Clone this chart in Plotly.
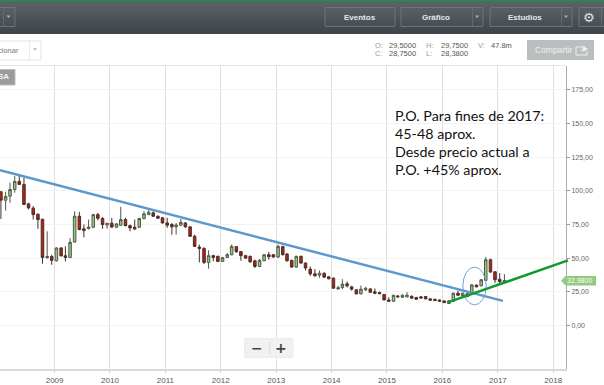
import plotly.graph_objects as go
import pandas as pd

W, H = 604, 385
# layout pixels of the plot frame
PL, PR, PT, PB = 0, 566, 66, 369

opens = [99.4,93.1,96.1,101.1,107.1,104.8,90.4,87.2,82.7,79.0,50.4,51.3,48.1,57.6,51.8,50.6,62.0,81.2,71.8,72.0,73.0,82.4,79.5,74.7,76.0,73.0,74.5,78.7,74.2,73.0,73.0,79.5,82.4,
         83.7,81.2,80.0,76.2,75.0,73.3,74.5,76.2,73.3,66.3,58.3,57.3,46.9,51.9,51.4,47.6,50.6,52.6,58.6,54.9,51.9,51.4,48.1,43.9,48.1,52.6,52.6,50.9,58.6,53.1,48.4,43.4,
         51.4,46.4,41.9,38.4,37.4,38.9,36.2,35.2,27.2,28.2,31.0,28.7,26.5,23.5,26.5,27.2,25.0,24.5,23.0,19.0,18.0,22.0,21.0,21.3,21.8,20.8,21.3,21.5,19.8,19.5,19.0,18.3,
         18.3,18.0,24.0,22.3,23.5,24.0,30.0,29.5,33.5,48.9,39.9,34.4,32.2]
highs = [99.4,99.4,106.1,111.1,111.1,109.8,91.2,88.7,83.2,79.2,70.0,52.6,58.1,58.3,58.8,65.0,84.9,84.4,75.0,78.7,82.9,83.7,80.7,76.2,80.0,76.0,88.2,80.0,75.0,78.7,80.0,85.0,85.7,
         84.7,81.7,80.7,80.0,76.2,76.2,79.2,76.7,73.8,67.5,60.1,58.1,55.9,52.6,51.9,50.9,53.9,60.1,58.8,55.1,52.6,51.9,48.9,49.4,53.1,54.6,53.1,60.1,59.3,53.9,48.9,51.9,
         51.9,46.9,43.9,41.9,40.9,39.4,36.4,35.7,29.5,34.4,32.7,29.5,27.0,29.7,28.7,27.7,27.5,25.2,23.5,21.0,22.7,22.5,23.2,24.7,22.2,21.3,21.8,22.0,20.0,19.8,19.3,18.5,
         18.5,24.5,26.0,24.5,24.0,30.4,30.5,34.5,50.9,49.6,40.2,38.9,38.2]
lows = [79.2,85.4,91.2,98.6,104.8,89.9,86.2,78.7,71.8,45.9,49.6,45.1,47.6,51.3,47.6,50.1,61.8,70.8,65.5,71.3,72.5,78.2,71.8,71.8,72.5,72.7,74.2,73.7,70.0,70.8,72.5,78.7,82.2,
        80.7,79.2,75.7,72.5,67.5,67.5,73.8,72.5,65.8,58.3,46.9,45.6,42.2,47.6,47.4,47.4,50.1,52.1,53.9,48.1,49.4,46.4,42.7,43.4,47.9,48.9,50.4,50.1,52.1,47.4,42.9,42.9,
        45.9,40.9,36.9,36.4,35.4,35.4,34.4,27.5,26.5,27.0,28.2,26.0,23.2,23.2,25.7,24.5,23.2,23.2,18.8,17.8,17.8,21.0,20.5,21.0,20.0,19.3,20.0,19.5,18.5,18.3,17.8,16.8,
        16.3,17.8,22.0,22.0,21.3,23.8,28.5,29.2,33.3,39.4,31.5,30.7,32.0]
closes = [93.1,95.9,101.1,107.1,104.8,89.9,87.4,82.4,78.7,50.6,51.3,48.4,57.6,51.8,50.6,61.8,81.2,71.3,70.5,73.2,82.4,79.7,75.0,76.0,73.2,75.5,78.7,74.2,72.5,71.8,79.5,83.0,84.2,
          81.2,79.7,76.2,74.5,73.3,74.7,76.7,73.3,66.3,58.8,57.3,46.9,51.9,50.6,47.6,50.4,52.6,58.8,54.9,51.9,50.1,47.4,43.9,48.4,52.6,51.1,50.9,58.8,52.6,48.1,43.4,51.4,
          46.4,42.7,38.4,36.9,38.9,35.9,34.7,27.7,28.0,30.7,29.5,27.0,23.5,27.0,27.7,24.7,24.0,23.7,19.0,18.0,22.5,21.3,22.5,22.5,20.3,19.5,20.5,19.8,18.8,18.5,18.0,17.0,
          16.5,24.0,22.5,24.0,21.5,30.2,28.7,34.0,48.9,39.7,34.0,32.7,33.4]
dates = pd.date_range("2008-01-01", periods=len(opens), freq="MS") + pd.Timedelta(days=12)

y_ticks = [0, 25, 50, 75, 100, 125, 150, 175]
x_range = ["2008-01-07", "2018-03-26"]
y_range = [-32.3, 192.8]

blue_x = ["2008-01-07", "2017-02-03"]
blue_y = [115.3, 18.3]
green_x = ["2016-01-22", "2018-04-08"]
green_y = [16.6, 48.4]
ellipse_x = ["2016-05-15", "2016-10-16"]
ellipse_y = [15.3, 43.4]

note_lines = ["P.O. Para fines de 2017:", "45-48 aprox.", "Desde precio actual a", "P.O. +45% aprox."]
last_price = "32,9800"

fig = go.Figure()
fig.add_trace(go.Candlestick(
    x=dates, open=opens, high=highs, low=lows, close=closes, whiskerwidth=0,
    increasing=dict(line=dict(color="#4f5a4a", width=1), fillcolor="#93c97c"),
    decreasing=dict(line=dict(color="#4a2e2a", width=1), fillcolor="#b9220f"),
    showlegend=False, hoverinfo="skip"))
fig.add_trace(go.Scatter(x=blue_x, y=blue_y, mode="lines",
                         line=dict(color="#5b98cc", width=2.5), showlegend=False, hoverinfo="skip"))

shapes, ann = [], []


def rect(x0, y0, x1, y1, fill=None, line=None, lw=1, layer="above"):
    shapes.append(dict(type="rect", xref="paper", yref="paper", layer=layer,
                       x0=x0 / W, x1=x1 / W, y0=1 - y0 / H, y1=1 - y1 / H,
                       fillcolor=fill or "rgba(0,0,0,0)",
                       line=dict(color=line or "rgba(0,0,0,0)", width=lw if line else 0)))


def path(points, fill=None, line=None, lw=1):
    d = "M" + " L".join(f"{x / W:.5f},{1 - y / H:.5f}" for x, y in points)
    shapes.append(dict(type="path", xref="paper", yref="paper", path=d + (" Z" if fill else ""),
                       fillcolor=fill or "rgba(0,0,0,0)",
                       line=dict(color=line or "rgba(0,0,0,0)", width=lw if line else 0)))


def label(x, y, s, size=9, color="#666", anchor="left", family="Liberation Sans", bold=False):
    ann.append(dict(xref="paper", yref="paper", x=x / W, y=1 - y / H, text=f"<b>{s}</b>" if bold else s,
                    showarrow=False, xanchor=anchor, yanchor="middle",
                    font=dict(size=size, color=color, family=family), borderpad=0, borderwidth=0))


# header band
top, bottom = (92, 99, 104), (62, 68, 73)
for i in range(33):
    t = i / 32
    c = tuple(round(a + (b - a) * t) for a, b in zip(top, bottom))
    rect(0, 1 + i, W, 2 + i, fill=f"rgb{c}")
rect(0, 0, W, 1, fill="#12993a")
for x0, x1 in [(-4, 15), (325, 395), (401, 483), (490, 572), (579, 610)]:
    rect(x0, 7.5, x1, 26.5, fill="rgba(255,255,255,0.02)", line="#6d7479", lw=1)
for x in [3, 472, 561, 601]:
    rect(x, 8, x + 0.7, 26, fill="#6d7479")
for cx in [8.5, 477, 566]:
    path([(cx - 2, 15.5), (cx + 2, 15.5), (cx, 18)], fill="#aeb3b6")
label(360, 17, "Eventos", 8, "#e6e8e9", "center", bold=True)
label(436, 17, "Gráfico", 8, "#e6e8e9", "center", bold=True)
label(525, 17, "Estudios", 8, "#e6e8e9", "center", bold=True)
label(589, 17, "⚙", 13, "#dfe2e3", "center", "DejaVu Sans")

# toolbar under header
rect(-4, 41, 41, 60, fill="#ffffff", line="#e2e2e2", lw=1)
rect(29, 41, 29.7, 60, fill="#e2e2e2")
path([(33, 48), (37, 48), (35, 51)], fill="#c4c4c4")
label(19, 51, "cionar", 7.5, "#777", "right")
for x, y, s, c in [(375, 45, "O:", "#999"), (389, 45, "29,5000", "#555"), (426, 45, "H:", "#999"), (441, 45, "29,7500", "#555"),
                   (478, 45, "V:", "#999"), (491, 45, "47.8m", "#555"), (375, 53.5, "C:", "#999"), (389, 53.5, "28,7500", "#555"),
                   (426, 53.5, "L:", "#999"), (441, 53.5, "28,3800", "#555")]:
    label(x, y, s, 7.5, c)
rect(527, 40, 594, 60, fill="#b9bfbf")
label(553, 50, "Compartir", 8.5, "#eef0f0", "center")
path([(585, 47), (576, 47), (576, 55), (587, 55), (587, 51)], line="#eef0f0", lw=1)
path([(580, 52), (583, 48), (583, 46), (588, 49), (583, 52), (583, 50)], fill="#eef0f0")

# frame top and tag
rect(0, 65, 566, 66, fill="#e6e6e6")
rect(-3, 69.5, 15, 85, fill="#9b9b9b", line="#bdbdbd", lw=1)
label(8.5, 77, "SA", 8, "#f2f2f2", "right", bold=True)

# zoom control
rect(244.5, 338.5, 293, 357.5, fill="rgba(240,240,240,0.93)", line="#ececec", lw=1)
rect(269.5, 342, 270.2, 354, fill="#cfcfcf")
label(257, 347.5, "−", 14, "#444", "center", "DejaVu Sans", True)
label(281, 347.5, "+", 14, "#444", "center", "DejaVu Sans", True)

# last-price tag
path([(561, 280.7), (565.5, 276), (596, 276), (596, 285.5), (565.5, 285.5)], fill="#93c97c")
label(579.5, 280.8, last_price, 7, "#ffffff", "center")

# annotation text
for y, s in zip([115, 133, 151, 170], note_lines):
    label(394.5, y, s, 14.3, "#111", family="Lato")

# ellipse, in data coordinates
shapes.append(dict(type="circle", xref="x", yref="y", x0=ellipse_x[0], x1=ellipse_x[1],
                   y0=ellipse_y[0], y1=ellipse_y[1], line=dict(color="#6fa3d3", width=1)))
# green trend line, drawn as a data-anchored annotation so it can run past the axis
ann.append(dict(xref="x", yref="y", axref="x", ayref="y", x=green_x[1], y=green_y[1], ax=green_x[0], ay=green_y[0],
                text="", showarrow=True, arrowhead=0, arrowwidth=2.5, arrowcolor="#0f9a2f", standoff=0, startstandoff=0))

fig.update_layout(
    width=W, height=H, margin=dict(l=0, r=0, t=0, b=0), autosize=False,
    paper_bgcolor="#ffffff", plot_bgcolor="#ffffff", separators=",.", boxgap=0.15,
    shapes=shapes, annotations=ann, showlegend=False,
    xaxis=dict(domain=[PL / W, PR / W], range=x_range, type="date", rangeslider=dict(visible=False),
               dtick="M12", tick0="2008-01-01", tickformat="%Y", showgrid=True, gridcolor="#dfdfdf", gridwidth=1,
               ticks="outside", ticklen=2, tickcolor="#cfcfcf", showline=True, linecolor="#d9d9d9", linewidth=2,
               tickfont=dict(size=8, color="#555", family="Liberation Sans"), zeroline=False),
    yaxis=dict(domain=[1 - PB / H, 1 - PT / H], range=y_range, side="right", tickvals=y_ticks, tickformat=".2f",
               showgrid=True, gridcolor="#f3f3f3", gridwidth=1, ticks="outside", ticklen=3, tickcolor="#999",
               showline=True, linecolor="#aaaaaa", linewidth=1, zeroline=False,
               tickfont=dict(size=7, color="#666", family="Liberation Sans")),
)
fig.write_html("out.html", config=dict(displayModeBar=False),
               post_script="document.body.style.margin='0';document.body.style.overflow='hidden';")
